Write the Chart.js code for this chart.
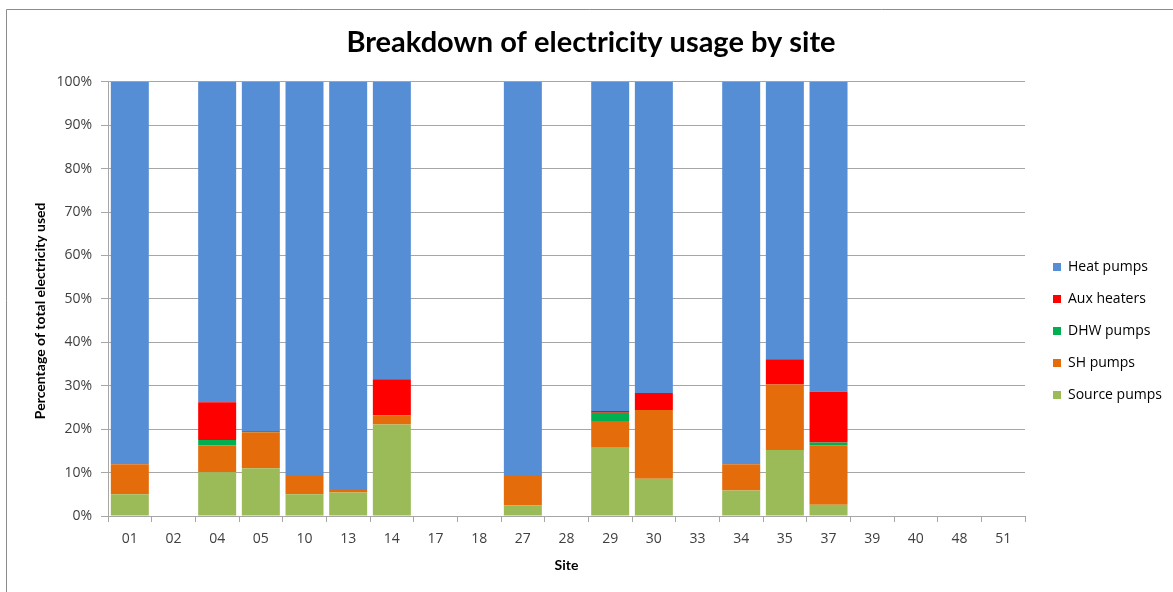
<!DOCTYPE html>
<html>
<head>
<meta charset="utf-8">
<script src="https://cdn.jsdelivr.net/npm/chart.js@4.4.0/dist/chart.umd.min.js"></script>
<style>
  body { margin: 0; background: #fff; }
  #wrap { width: 1173px; height: 592px; position: relative; }
</style>
</head>
<body>
<div id="wrap"><canvas id="chart" width="1173" height="592"></canvas></div>
<script>
// sites on the x axis
const sites = ['01', '02', '04', '05', '10', '13', '14', '17', '18', '27', '28',
               '29', '30', '33', '34', '35', '37', '39', '40', '48', '51'];

// share of total electricity (%)
const sourcePumps = [5.0, null, 10.1, 11.0, 5.0, 5.4, 21.1, null, null, 2.4, null,
                     15.7, 8.6, null, 5.9, 15.2, 2.6, null, null, null, null];
const shPumps     = [6.9, null, 6.2, 8.3, 4.2, 0.6, 2.1, null, null, 6.8, null,
                     6.2, 15.8, null, 6.0, 15.1, 13.7, null, null, null, null];
const dhwPumps    = [0, null, 1.2, 0.3, 0, 0, 0, null, null, 0, null,
                     1.9, 0, null, 0, 0, 0.6, null, null, null, null];
const auxHeaters  = [0, null, 8.7, 0, 0, 0, 8.3, null, null, 0, null,
                     0.4, 3.9, null, 0, 5.8, 11.7, null, null, null, null];
const heatPumps   = [88.1, null, 73.8, 80.4, 90.8, 94.0, 68.5, null, null, 90.8, null,
                     75.8, 71.7, null, 88.1, 63.9, 71.4, null, null, null, null];

const yTicks = [0, 10, 20, 30, 40, 50, 60, 70, 80, 90, 100];

const TITLE_FONT = 'Lato, sans-serif';
const LABEL_FONT = '"Open Sans", sans-serif';
const tickColor = '#404040';
const gridColor = '#a6a6a6';

// thin frame like the spreadsheet chart border
const framePlugin = {
  id: 'frame',
  beforeDraw(chart) {
    const ctx = chart.ctx;
    ctx.save();
    ctx.strokeStyle = '#8c8c8c';
    ctx.lineWidth = 1;
    ctx.beginPath();
    ctx.moveTo(6.5, 592);
    ctx.lineTo(6.5, 9.5);
    ctx.lineTo(1173, 9.5);
    ctx.stroke();
    ctx.restore();
  }
};

// nudge legend and title to sit where the original ones are
const layoutNudge = {
  id: 'layoutNudge',
  afterLayout(chart) {
    const lg = chart.legend;
    if (lg) {
      const dy = 35;
      lg.top += dy;
      lg.bottom += dy;
      const dx = 1053 - 18 - lg.left;
      lg.left += dx;
      lg.right += dx;
    }
    const tb = chart.titleBlock;
    if (tb) {
      tb.left += 10;
      tb.right += 10;
    }
  }
};

function ds(label, data, color) {
  return {
    label: label,
    data: data,
    backgroundColor: color,
    borderWidth: 0,
    barPercentage: 0.87,
    categoryPercentage: 1.0
  };
}

new Chart(document.getElementById('chart'), {
  type: 'bar',
  data: {
    labels: sites,
    datasets: [
      ds('Source pumps', sourcePumps, '#9BBB59'),
      ds('SH pumps', shPumps, '#E46C0A'),
      ds('DHW pumps', dhwPumps, '#00B050'),
      ds('Aux heaters', auxHeaters, '#FF0000'),
      ds('Heat pumps', heatPumps, '#558ED5')
    ]
  },
  options: {
    responsive: false,
    animation: false,
    layout: { padding: { left: 0, right: 11, top: 0, bottom: 0 } },
    plugins: {
      title: {
        display: true,
        text: 'Breakdown of electricity usage by site',
        color: '#000',
        font: { family: TITLE_FONT, size: 29, weight: 'bold' },
        padding: { top: 25, bottom: 22 }
      },
      legend: {
        position: 'right',
        reverse: true,
        labels: {
          boxWidth: 8,
          boxHeight: 8,
          padding: 18,
          color: '#000',
          font: { family: LABEL_FONT, size: 14 }
        }
      },
      tooltip: { enabled: false }
    },
    scales: {
      x: {
        stacked: true,
        grid: {
          display: true,
          drawOnChartArea: false,
          drawTicks: true,
          tickLength: 6,
          color: gridColor,
          offset: true
        },
        border: { display: true, color: gridColor, width: 1 },
        ticks: {
          color: tickColor,
          font: { family: LABEL_FONT, size: 14 },
          padding: 9,
          maxRotation: 0,
          autoSkip: false
        },
        title: {
          display: true,
          text: 'Site',
          color: '#000',
          font: { family: TITLE_FONT, size: 14, weight: 'bold' },
          padding: { top: 0, bottom: 18 }
        },
        afterFit(scale) { scale.height = 76; }
      },
      y: {
        stacked: true,
        min: 0,
        max: 100,
        afterBuildTicks(scale) {
          scale.ticks = yTicks.map(v => ({ value: v }));
        },
        grid: {
          color: gridColor,
          tickLength: 7,
          lineWidth: 1
        },
        border: { display: true, color: gridColor, width: 1 },
        ticks: {
          color: tickColor,
          font: { family: LABEL_FONT, size: 14 },
          padding: 9,
          callback: v => v + '%'
        },
        title: {
          display: true,
          // trailing spaces push the visible text a little lower, as in the original
          text: 'Percentage of total electricity used       ',
          color: '#000',
          font: { family: TITLE_FONT, size: 14, weight: 'bold' },
          padding: { top: 32, bottom: 0 }
        },
        afterFit(scale) { scale.width = 108; }
      }
    }
  },
  plugins: [framePlugin, layoutNudge]
});
</script>
</body>
</html>
